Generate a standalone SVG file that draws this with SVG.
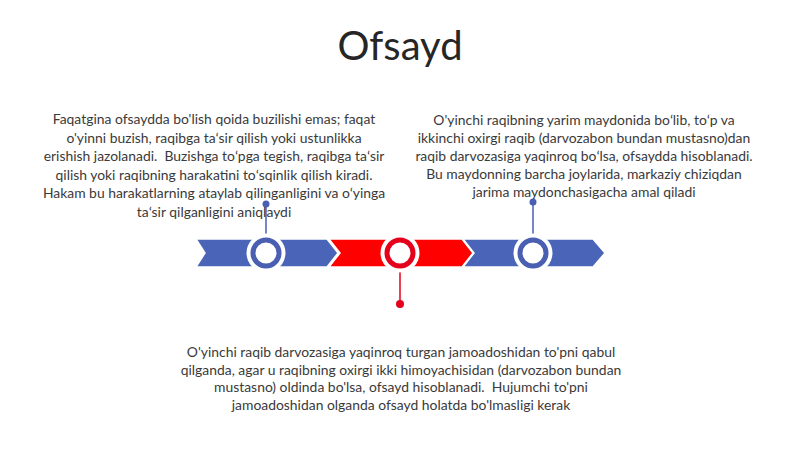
<svg xmlns="http://www.w3.org/2000/svg" width="800" height="449" viewBox="0 0 800 449">
<style>
.t{font-family:Lato,"Liberation Sans",sans-serif;font-size:13.9px;fill:#3a3a3a;text-anchor:middle;white-space:pre}
.title{font-family:Lato,"Liberation Sans",sans-serif;font-size:40px;fill:#262626;text-anchor:middle}
.blue{fill:#4a64b8;stroke:#ffffff;stroke-width:1.5}
.red{fill:#ff0000;stroke:#ffffff;stroke-width:1.5}
.halo{fill:#ffffff}
.rb{fill:#ffffff;stroke:#4a5fb2;stroke-width:5}
.rr{fill:#ffffff;stroke:#e5001b;stroke-width:5}
.lb{stroke:#4a5fb2;stroke-width:1.5}
.lr{stroke:#e5001b;stroke-width:1.5}
</style>
<rect width="800" height="449" fill="#ffffff"/>
<text class="title" x="400" y="60">Ofsayd</text>
<g id="timeline">
<polygon class="blue" points="196,239 327,239 338,253 327,267 196,267 205,253"/>
<polygon class="red" points="329,239 462,239 473,253 462,267 329,267 340,253"/>
<polygon class="blue" points="463,239 593,239 605,253 593,267 463,267 474,253"/>
</g>
<g id="connectors">
<line class="lb" x1="266" y1="204" x2="266" y2="236"/>
<circle cx="266" cy="204" r="3.5" fill="#4a5fb2"/>
<line class="lb" x1="533" y1="202" x2="533" y2="236"/>
<circle cx="533" cy="202" r="3.5" fill="#4a5fb2"/>
<line class="lr" x1="400" y1="270" x2="400" y2="304"/>
<circle cx="400" cy="304" r="4" fill="#e5001b"/>
</g>
<g id="node1">
<circle class="halo" cx="266" cy="253" r="19.5"/>
<circle class="rb" cx="266" cy="253" r="13"/>
<text class="t" x="214" y="124">Faqatgina ofsaydda bo'lish qoida buzilishi emas; faqat</text>
<text class="t" x="214" y="142.5">o'yinni buzish, raqibga taʻsir qilish yoki ustunlikka</text>
<text class="t" x="214" y="161">erishish jazolanadi.  Buzishga toʻpga tegish, raqibga taʻsir</text>
<text class="t" x="214" y="179.5">qilish yoki raqibning harakatini toʻsqinlik qilish kiradi.</text>
<text class="t" x="214" y="198">Hakam bu harakatlarning ataylab qilinganligini va oʻyinga</text>
<text class="t" x="214" y="216.5">taʻsir qilganligini aniqlaydi</text>
</g>
<g id="node2">
<circle class="halo" cx="400" cy="253" r="19.5"/>
<circle class="rr" cx="400" cy="253" r="13"/>
<text class="t" x="401" y="357">O'yinchi raqib darvozasiga yaqinroq turgan jamoadoshidan to'pni qabul</text>
<text class="t" x="401" y="374.7">qilganda, agar u raqibning oxirgi ikki himoyachisidan (darvozabon bundan</text>
<text class="t" x="401" y="392.4">mustasno) oldinda bo'lsa, ofsayd hisoblanadi.  Hujumchi to'pni</text>
<text class="t" x="401" y="410">jamoadoshidan olganda ofsayd holatda bo'lmasligi kerak</text>
</g>
<g id="node3">
<circle class="halo" cx="533" cy="253" r="19.5"/>
<circle class="rb" cx="533" cy="253" r="13"/>
<text class="t" x="584" y="125">O'yinchi raqibning yarim maydonida boʻlib, toʻp va</text>
<text class="t" x="584" y="143">ikkinchi oxirgi raqib (darvozabon bundan mustasno)dan</text>
<text class="t" x="584" y="161">raqib darvozasiga yaqinroq boʻlsa, ofsaydda hisoblanadi.</text>
<text class="t" x="584" y="179">Bu maydonning barcha joylarida, markaziy chiziqdan</text>
<text class="t" x="584" y="197">jarima maydonchasigacha amal qiladi</text>
</g>
</svg>
